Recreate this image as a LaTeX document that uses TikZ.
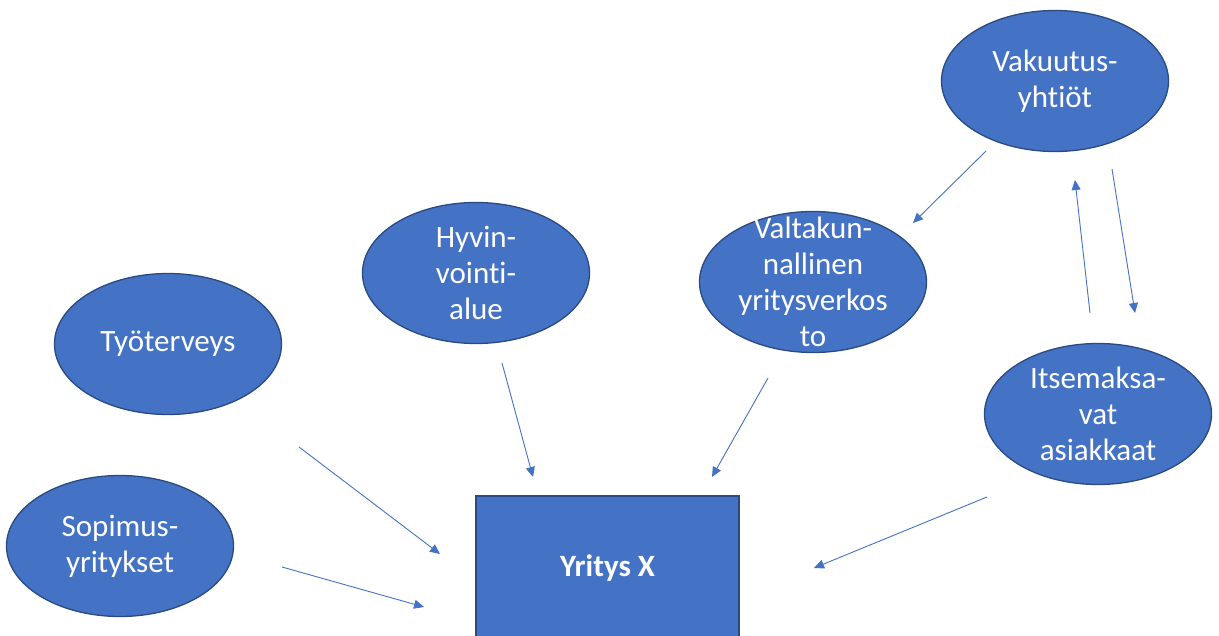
\documentclass[tikz,border=0pt]{standalone}
\usepackage{fontspec}
\setmainfont{Carlito}[Ligatures=NoCommon]
\usetikzlibrary{arrows.meta,shapes.geometric}
\definecolor{fillblue}{HTML}{4472C4}
\definecolor{edgeblue}{HTML}{2A4A80}
\definecolor{arrowblue}{HTML}{4472C4}
\begin{document}
\begin{tikzpicture}[x=1pt,y=-1pt,
  ell/.style={ellipse,draw=edgeblue,line width=1.3pt,fill=fillblue,minimum width=227pt,minimum height=141pt,inner sep=0pt},
  txt/.style={text=white,align=center,font=\fontsize{31}{36}\selectfont,inner sep=0pt},
  boxnode/.style={rectangle,draw=edgeblue,line width=1.3pt,fill=fillblue,minimum width=263pt,minimum height=144pt,inner sep=0pt,text=white,font=\fontsize{31}{36}\selectfont\bfseries},
  conn/.style={draw=arrowblue,line width=0.9pt,-{Triangle[length=10pt,width=9pt]}}]
\clip (0,0) rectangle (1219,636);
\fill[white] (0,0) rectangle (1219,636);

% ellipses
\node[ell] (vak) at (1055,81) {};
\node[txt] (vakT) at (vak.center) {Vakuutus-\\yhtiöt};
\node[ell] (hyv) at (476,273) {};
\node[txt] (hyvT) at (hyv.center) {Hyvin-\\vointi-\\alue};
\node[ell] (val) at (813,282) {};
\node[txt] (valT) at (val.center) {Valtakun-\\nallinen\\yritysverkos\\to};
\node[ell] (tyo) at (168,344) {};
\node[txt] (tyoT) at (tyo.center) {Työterveys};
\node[ell] (its) at (1098,414) {};
\node[txt] (itsT) at (its.center) {Itsemaksa-\\vat\\asiakkaat};
\node[ell] (sop) at (120,546) {};
\node[txt] (sopT) at (sop.center) {Sopimus-\\yritykset};

% main box
\node[boxnode] (yx) at (607.5,568) {Yritys X};

% connector end points
\coordinate (vakA) at (986,151);
\coordinate (valIn) at (913,223);
\coordinate (itsUp) at (1090,313);
\coordinate (vakIn) at (1075,180);
\coordinate (vakDn) at (1112,169);
\coordinate (itsIn) at (1135,313);
\coordinate (tyoOut) at (299,447);
\coordinate (yxA) at (440,554);
\coordinate (sopOut) at (282,567);
\coordinate (yxB) at (424,607);
\coordinate (hyvOut) at (502,363);
\coordinate (yxC) at (533,477);
\coordinate (valOut) at (768,378);
\coordinate (yxD) at (712,477);
\coordinate (itsOut) at (987,497);
\coordinate (yxE) at (814,568);

\draw[conn] (vakA) -- (valIn);
\draw[conn] (itsUp) -- (vakIn);
\draw[conn] (vakDn) -- (itsIn);
\draw[conn] (tyoOut) -- (yxA);
\draw[conn] (sopOut) -- (yxB);
\draw[conn] (hyvOut) -- (yxC);
\draw[conn] (valOut) -- (yxD);
\draw[conn] (itsOut) -- (yxE);
\end{tikzpicture}
\end{document}
